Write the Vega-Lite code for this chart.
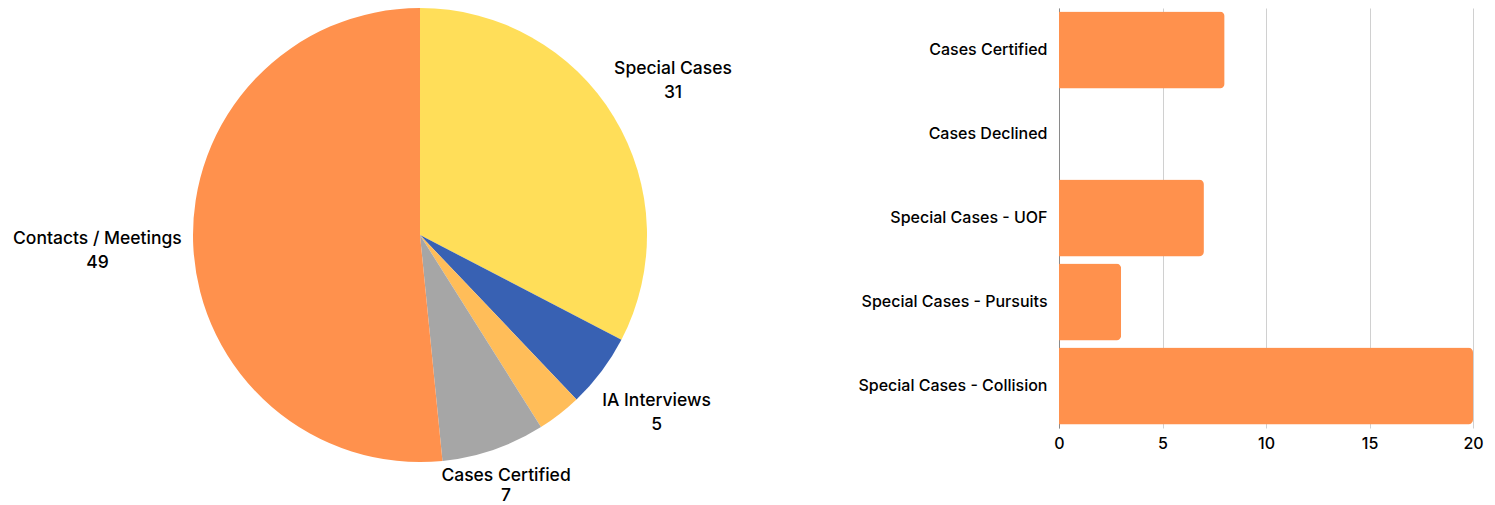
{
  "$schema": "https://vega.github.io/schema/vega-lite/v6.json",
  "padding": {"left": 0, "top": 8, "right": 0, "bottom": 0},
  "background": "white",
  "config": {"view": {"stroke": null}, "font": "Inter"},
  "spacing": 219,
  "bounds": "flush",
  "hconcat": [
    {
      "width": 840,
      "height": 454,
      "data": {"values": [
        {"category": "Special Cases", "value": 31, "rank": 1},
        {"category": "IA Interviews", "value": 5, "rank": 2},
        {"category": "Other", "value": 3, "rank": 3},
        {"category": "Cases Certified", "value": 7, "rank": 4},
        {"category": "Contacts / Meetings", "value": 49, "rank": 5}
      ]},
      "encoding": {
        "theta": {"field": "value", "type": "quantitative", "stack": true},
        "order": {"field": "rank", "type": "quantitative"}
      },
      "layer": [
        {
          "mark": {"type": "arc", "outerRadius": 227},
          "encoding": {
            "color": {
              "field": "category", "type": "nominal",
              "scale": {
                "domain": ["Special Cases", "IA Interviews", "Other", "Cases Certified", "Contacts / Meetings"],
                "range": ["#FFDE59", "#3861B3", "#FFBD59", "#A6A6A6", "#FF914D"]
              },
              "legend": null
            }
          }
        },
        {
          "mark": {"type": "text", "radius": 296, "dy": -12, "fontSize": 17.5, "fontWeight": 500, "color": "#000"},
          "encoding": {
            "text": {"field": "category", "type": "nominal"},
            "opacity": {"condition": {"test": "datum.category == 'Special Cases' || datum.category == 'IA Interviews'", "value": 1}, "value": 0}
          }
        },
        {
          "mark": {"type": "text", "radius": 296, "dy": 12, "fontSize": 17.5, "fontWeight": 500, "color": "#000"},
          "encoding": {
            "text": {"field": "value", "type": "quantitative"},
            "opacity": {"condition": {"test": "datum.category == 'Special Cases' || datum.category == 'IA Interviews'", "value": 1}, "value": 0}
          }
        },
        {
          "mark": {"type": "text", "radius": 265, "dy": -10, "fontSize": 17.5, "fontWeight": 500, "color": "#000"},
          "encoding": {
            "text": {"field": "category", "type": "nominal"},
            "opacity": {"condition": {"test": "datum.category == 'Cases Certified'", "value": 1}, "value": 0}
          }
        },
        {
          "mark": {"type": "text", "radius": 265, "dy": 10, "fontSize": 17.5, "fontWeight": 500, "color": "#000"},
          "encoding": {
            "text": {"field": "value", "type": "quantitative"},
            "opacity": {"condition": {"test": "datum.category == 'Cases Certified'", "value": 1}, "value": 0}
          }
        },
        {
          "mark": {"type": "text", "radius": 323, "dy": -12, "fontSize": 17.5, "fontWeight": 500, "color": "#000"},
          "encoding": {
            "text": {"field": "category", "type": "nominal"},
            "opacity": {"condition": {"test": "datum.category == 'Contacts / Meetings'", "value": 1}, "value": 0}
          }
        },
        {
          "mark": {"type": "text", "radius": 323, "dy": 12, "fontSize": 17.5, "fontWeight": 500, "color": "#000"},
          "encoding": {
            "text": {"field": "value", "type": "quantitative"},
            "opacity": {"condition": {"test": "datum.category == 'Contacts / Meetings'", "value": 1}, "value": 0}
          }
        }
      ]
    },
    {
      "width": 414,
      "height": 420,
      "data": {"values": [
        {"category": "Cases Certified", "value": 8},
        {"category": "Cases Declined", "value": 0},
        {"category": "Special Cases - UOF", "value": 7},
        {"category": "Special Cases - Pursuits", "value": 3},
        {"category": "Special Cases - Collision", "value": 20}
      ]},
      "mark": {"type": "bar", "color": "#FF914D", "cornerRadiusEnd": 5},
      "encoding": {
        "y": {
          "field": "category", "type": "nominal", "sort": null,
          "scale": {"paddingInner": 0.083, "paddingOuter": 0.042},
          "axis": {"title": null, "ticks": false, "labelPadding": 12, "labelLimit": 400, "labelFontSize": 16, "labelFontWeight": 500, "labelColor": "#000", "domainColor": "#8a8a8a", "grid": false}
        },
        "x": {
          "field": "value", "type": "quantitative",
          "scale": {"domain": [0, 20]},
          "axis": {"title": null, "values": [0, 5, 10, 15, 20], "ticks": false, "domain": false, "gridColor": "#d0d0d0", "labelFlush": false, "labelPadding": 7, "labelFontSize": 16, "labelFontWeight": 500, "labelColor": "#000"}
        }
      }
    }
  ]
}
